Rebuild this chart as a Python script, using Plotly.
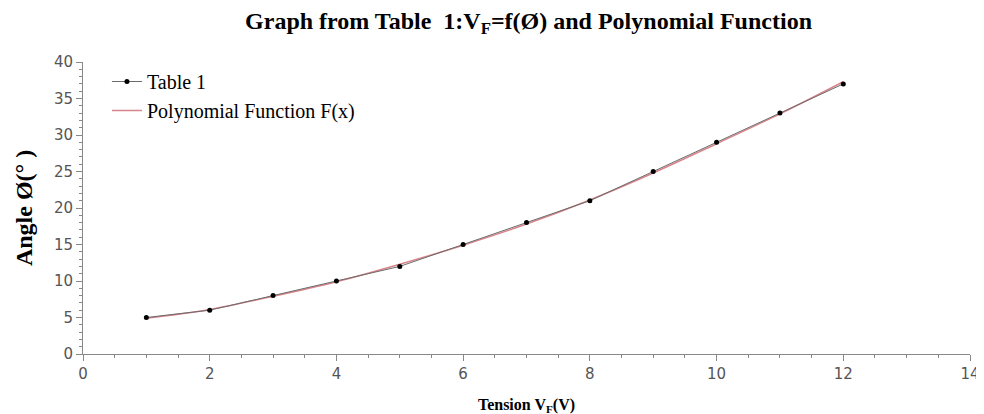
import plotly.graph_objects as go

x_table = [1, 2, 3, 4, 5, 6, 7, 8, 9, 10, 11, 12]
y_table = [5, 6, 8, 10, 12, 15, 18, 21, 25, 29, 33, 37]

x_poly = [1, 2, 3, 4, 5, 6, 7, 8, 9, 10, 11, 12]
y_poly = [4.9, 6.1, 7.9, 9.9, 12.3, 14.9, 17.8, 21.1, 24.8, 28.8, 32.9, 37.3]

serif = "Liberation Serif, Times New Roman, serif"
sans = "DejaVu Sans, Verdana, sans-serif"

fig = go.Figure()
fig.add_trace(go.Scatter(
    x=x_poly, y=y_poly, mode="lines", name="Polynomial Function F(x)",
    line=dict(color="#d9848a", width=1.5, shape="spline"),
))
fig.add_trace(go.Scatter(
    x=x_table, y=y_table, mode="lines+markers", name="Table 1",
    line=dict(color="#6b6b6b", width=1),
    marker=dict(color="black", size=5),
))

fig.update_layout(
    width=984, height=414,
    margin=dict(l=75, r=22, t=54, b=68),
    paper_bgcolor="white", plot_bgcolor="white",
    title=dict(
        text="Graph from Table  1:V<sub>F</sub>=f(Ø) and Polynomial Function",
        font=dict(family=serif, size=24, color="black", weight="bold"),
        x=0.529, xanchor="center", y=0.97, yanchor="middle",
    ),
    legend=dict(
        x=0.027, y=1.0, xanchor="left", yanchor="top",
        font=dict(family=serif, size=20, color="black"),
        bgcolor="rgba(0,0,0,0)", traceorder="reversed",
        itemwidth=30, tracegroupgap=0,
    ),
    showlegend=True,
)
fig.update_xaxes(
    range=[0, 14], dtick=2, showgrid=False, zeroline=False,
    showline=True, linecolor="#888", linewidth=1,
    ticks="outside", ticklen=6, tickcolor="#888",
    minor=dict(dtick=0.5, ticks="outside", ticklen=3, tickcolor="#888"),
    tickfont=dict(family=sans, size=15, color="#555"),
    title=dict(text="Tension V<sub>F</sub>(V)", standoff=16,
               font=dict(family=serif, size=16, color="black", weight="bold")),
)
fig.update_yaxes(
    range=[0, 40], dtick=5, showgrid=False, zeroline=False,
    showline=True, linecolor="#888", linewidth=1,
    ticks="outside", ticklen=6, tickcolor="#888",
    minor=dict(dtick=1, ticks="outside", ticklen=3, tickcolor="#888"),
    tickfont=dict(family=sans, size=15, color="#555"),
    title=dict(text="Angle Ø(° )", standoff=14,
               font=dict(family=serif, size=24, color="black", weight="bold")),
)

fig.write_html("out.html")
